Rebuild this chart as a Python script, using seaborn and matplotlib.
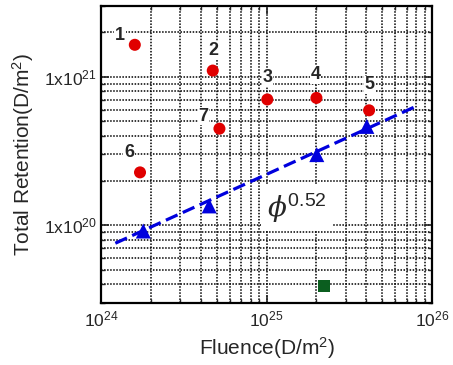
import matplotlib
matplotlib.use("Agg")
import numpy as np
import pandas as pd
import matplotlib.pyplot as plt
import seaborn as sns

# data
ret_fluence = [1.6e24, 4.73e24, 1.01e25, 2.0e25, 4.16e25, 1.72e24, 5.19e24]
ret_total = [1.64e21, 1.1e21, 7.03e20, 7.2e20, 5.94e20, 2.27e20, 4.47e20]
ret_labels = ['1', '2', '3', '4', '5', '6', '7']

tri_fluence = [1.8e24, 4.5e24, 2.01e25, 4.03e25]
tri_total = [9.15e19, 1.35e20, 2.99e20, 4.63e20]

sq_fluence = [2.22e25]
sq_total = [3.9e19]

fit_x = [1.22e24, 8.26e25]
fit_y = [7.57e19, 6.43e20]

sns.set_style('ticks')
plt.rcParams['font.family'] = ['Liberation Sans', 'DejaVu Sans']
plt.rcParams['mathtext.default'] = 'regular'

df_ret = pd.DataFrame({'x': ret_fluence, 'y': ret_total, 'lab': ret_labels})
df_tri = pd.DataFrame({'x': tri_fluence, 'y': tri_total})
df_sq = pd.DataFrame({'x': sq_fluence, 'y': sq_total})
df_fit = pd.DataFrame({'x': fit_x, 'y': fit_y})

fig, ax = plt.subplots(figsize=(4.53, 3.65), dpi=100)
fig.subplots_adjust(left=0.223, right=0.954, top=0.984, bottom=0.170)

ax.set_xscale('log')
ax.set_yscale('log')

sns.lineplot(data=df_fit, x='x', y='y', ax=ax, color='#0000dd', lw=2.3,
             linestyle=(0, (4, 1.8)), zorder=3)
sns.scatterplot(data=df_ret, x='x', y='y', ax=ax, marker='o', s=75,
                color='#e00000', edgecolor='none', zorder=4)
sns.scatterplot(data=df_tri, x='x', y='y', ax=ax, marker='^', s=117,
                color='#0000dd', edgecolor='none', zorder=4)
sns.scatterplot(data=df_sq, x='x', y='y', ax=ax, marker='s', s=83,
                color='#0b5e1f', edgecolor='none', zorder=4)

# point labels (offsets in points)
offsets = [(-10.6, 6.6), (0.4, 14.3), (0.1, 15.7), (-0.7, 17), (0.1, 18.4),
           (-7.9, 14.2), (-11.5, 9)]
for xv, yv, lab, off in zip(ret_fluence, ret_total, ret_labels, offsets):
    ax.annotate(lab, (xv, yv), xytext=off, textcoords='offset points',
                ha='center', va='center', fontsize=13, fontweight='bold',
                bbox=dict(fc='white', ec='none', pad=0.5), zorder=5)

ax.text(1.0e25, 1.31e20, r'$\mathit{\phi}^{0.52}$', fontsize=20,
        math_fontfamily='dejavuserif', ha='left', va='center',
        bbox=dict(fc='white', ec='none', pad=4), zorder=5)

ax.set_xlim(1e24, 1e26)
ax.set_ylim(3e19, 3e21)

ax.grid(True, which='both', color='black', linestyle=(0, (1, 1)), lw=1.1)
ax.set_axisbelow(True)

ax.set_yticks([1e20, 1e21])
ax.set_yticklabels([r'1x10$^{20}$', r'1x10$^{21}$'])
ax.tick_params(which='both', direction='in', top=True, right=True)
ax.tick_params(which='major', length=6, width=1.2)
ax.tick_params(which='minor', length=3, width=1)
ax.tick_params(axis='x', labelsize=12.5, pad=5)
ax.tick_params(axis='y', labelsize=12.5, pad=3)
ax.tick_params(axis='y', which='minor', labelleft=False)

for sp in ax.spines.values():
    sp.set_linewidth(1.6)
    sp.set_color('black')

ax.set_xlabel(r'Fluence(D/m$^{2}$)', fontsize=15, labelpad=4)
ax.set_ylabel(r'Total Retention(D/m$^{2}$)', fontsize=15, labelpad=6)

fig.savefig('out.png', dpi=100)
